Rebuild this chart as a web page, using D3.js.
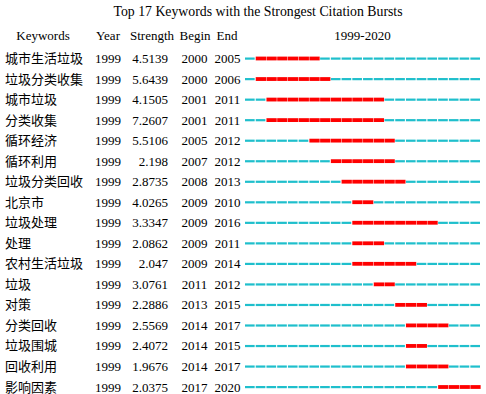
<!DOCTYPE html>
<html>
<head>
<meta charset="utf-8">
<script src="https://cdn.jsdelivr.net/npm/d3@7"></script>
<style>
  body { margin: 0; background: #fff; }
  text { font-family: "Liberation Serif", "Times New Roman", serif; fill: #000; }
  .cjk { font-family: "Noto Sans CJK SC", sans-serif; }
</style>
</head>
<body>
<div id="chart"></div>
<script>
// data
const keywords = ['城市生活垃圾', '垃圾分类收集', '城市垃圾', '分类收集', '循环经济', '循环利用',
    '垃圾分类回收', '北京市', '垃圾处理', '处理', '农村生活垃圾', '垃圾', '对策', '分类回收',
    '垃圾围城', '回收利用', '影响因素'];
const years = [1999, 1999, 1999, 1999, 1999, 1999, 1999, 1999, 1999, 1999, 1999, 1999, 1999, 1999, 1999, 1999, 1999];
const strength = ['4.5139', '5.6439', '4.1505', '7.2607', '5.5106', '2.198', '2.8735', '4.0265', '3.3347',
    '2.0862', '2.047', '3.0761', '2.2886', '2.5569', '2.4072', '1.9676', '2.0375'];
const begin = [2000, 2000, 2001, 2001, 2005, 2007, 2008, 2009, 2009, 2009, 2009, 2011, 2013, 2014, 2014, 2014, 2017];
const end = [2005, 2006, 2011, 2011, 2012, 2012, 2013, 2010, 2016, 2011, 2014, 2012, 2015, 2017, 2015, 2017, 2020];
const timeline = d3.range(1999, 2021);

const width = 486, height = 394;
const svg = d3.select('#chart').append('svg')
    .attr('width', width)
    .attr('height', height);

const rows = keywords.map((k, i) => ({
    keyword: k, year: years[i], strength: strength[i], begin: begin[i], end: end[i]
}));

// row positions
const y = d3.scalePoint()
    .domain(keywords)
    .range([58.5, 387]);

// year positions in the timeline
const x = d3.scaleBand()
    .domain(timeline)
    .range([245, 480])
    .paddingInner(0.1)
    .paddingOuter(0);

// title
svg.append('text')
    .attr('x', 258)
    .attr('y', 16)
    .attr('text-anchor', 'middle')
    .attr('font-size', '13.8px')
    .text('Top 17 Keywords with the Strongest Citation Bursts');

// headers
const headers = [
    { label: 'Keywords', x: 43 },
    { label: 'Year', x: 108 },
    { label: 'Strength', x: 152 },
    { label: 'Begin', x: 195 },
    { label: 'End', x: 227 },
    { label: timeline[0] + '-' + timeline[timeline.length - 1], x: 362.5 }
];
svg.selectAll('.hdr')
    .data(headers)
    .join('text')
    .attr('class', 'hdr')
    .attr('x', d => d.x)
    .attr('y', 39.5)
    .attr('text-anchor', 'middle')
    .attr('font-size', '13px')
    .text(d => d.label);

const g = svg.selectAll('.row')
    .data(rows)
    .join('g')
    .attr('class', 'row')
    .attr('transform', d => `translate(0, ${y(d.keyword)})`);

g.append('text')
    .attr('class', 'cjk')
    .attr('x', 5)
    .attr('y', 4.5)
    .attr('font-size', '13px')
    .text(d => d.keyword);

g.append('text')
    .attr('x', 108)
    .attr('y', 4.5)
    .attr('text-anchor', 'middle')
    .attr('font-size', '13px')
    .text(d => d.year);

g.append('text')
    .attr('x', 168)
    .attr('y', 4.5)
    .attr('text-anchor', 'end')
    .attr('font-size', '13px')
    .text(d => d.strength);

g.append('text')
    .attr('x', 194.5)
    .attr('y', 4.5)
    .attr('text-anchor', 'middle')
    .attr('font-size', '13px')
    .text(d => d.begin);

g.append('text')
    .attr('x', 227.5)
    .attr('y', 4.5)
    .attr('text-anchor', 'middle')
    .attr('font-size', '13px')
    .text(d => d.end);

// dashed timeline: one dash per year, red during the burst
g.each(function (d) {
    const burst = yr => yr >= d.begin && yr <= d.end;
    d3.select(this).selectAll('rect')
        .data(timeline)
        .join('rect')
        .attr('x', yr => x(yr))
        .attr('width', yr => burst(yr) ? x.step() - 0.45 : x.bandwidth())
        .attr('y', yr => burst(yr) ? -1.9 : -1)
        .attr('height', yr => burst(yr) ? 3.8 : 2.2)
        .attr('fill', yr => burst(yr) ? '#ff0000' : '#1fbfcc');
});
</script>
</body>
</html>
